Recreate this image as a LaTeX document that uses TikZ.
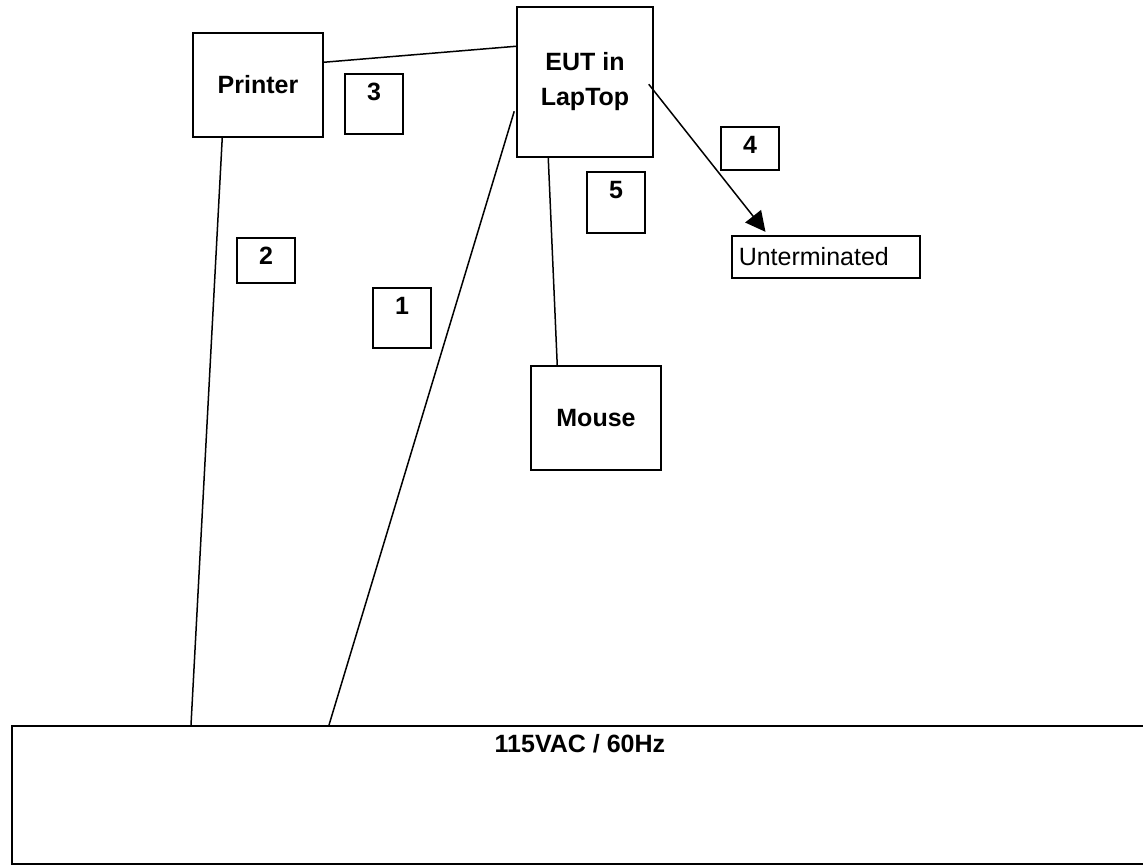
\documentclass[tikz,border=0pt]{standalone}
\usepackage{fontspec}
\setmainfont{Liberation Sans}
\usetikzlibrary{arrows.meta}

\tikzset{
  unit/.style={draw=black,line width=1.5,inner sep=0,font=\bfseries},
  tagbox/.style={draw=black,line width=1.5,inner sep=0,minimum width=58,anchor=north,
    text height=27,text depth=#1,font=\bfseries},
  cable/.style={line width=1.5},
}

\begin{document}
\fontsize{25}{35}\selectfont
\begin{tikzpicture}[x=1pt,y=-1pt]
\useasboundingbox (0,0) rectangle (1143,865);

\node[unit,minimum width=130,minimum height=104] (printer) at (258,85) {Printer};
\node[unit,minimum width=136,minimum height=150,align=center] (eut) at (585,82) {EUT in\\LapTop};
\node[unit,minimum width=130,minimum height=104] (mouse) at (596,418) {Mouse};
\node[draw=black,line width=1.5,anchor=north west,minimum height=42,text width=174,
  inner xsep=7,inner ysep=0,align=left] (unterm) at (731,235) {Unterminated};
\node[draw=black,line width=1.8,anchor=north west,minimum width=1136,inner sep=0,
  text height=27,text depth=111,font=\bfseries] (power) at (11,725) {115VAC / 60Hz};

\node[tagbox=33] (t1) at (402,287) {1};
\node[tagbox=18] (t2) at (266,237) {2};
\node[tagbox=33] (t3) at (374,73) {3};
\node[tagbox=16] (t4) at (750,126) {4};
\node[tagbox=34] (t5) at (616,171) {5};

\draw[cable] ([yshift=-30]printer.north east) -- ([yshift=-40]eut.north west);
\draw[cable] ([xshift=30]printer.south west) -- ([xshift=180]power.north west);
\draw[cable] ([xshift=-2,yshift=-105]eut.north west) -- ([xshift=318]power.north west);
\draw[cable] ([xshift=32]eut.south west) -- ([xshift=27]mouse.north west);
\draw[cable,-{Triangle[length=20,width=20]},shorten >=4] ([xshift=-5,yshift=-78]eut.north east) -- ([xshift=37]unterm.north west);
\end{tikzpicture}
\end{document}
